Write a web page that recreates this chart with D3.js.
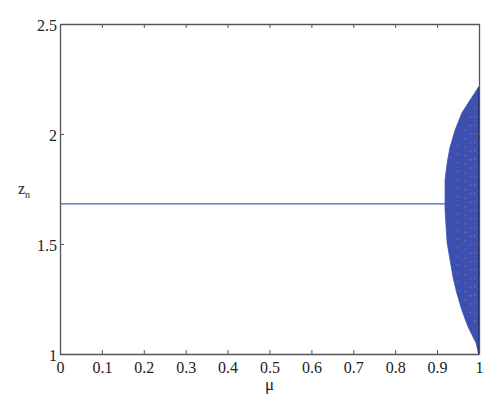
<!DOCTYPE html>
<html>
<head>
<meta charset="utf-8">
<script src="https://cdn.jsdelivr.net/npm/d3@7"></script>
<style>
  body { margin: 0; background: #fff; }
</style>
</head>
<body>
<script>
// values
const xTicks = [0, 0.1, 0.2, 0.3, 0.4, 0.5, 0.6, 0.7, 0.8, 0.9, 1];
const yTicks = [1, 1.5, 2, 2.5];

// fixed point before the bifurcation
const fixedZ = 1.682;
const fixedEndMu = 0.919;

// left boundary of the chaotic band, top to bottom (band fills to mu = 1)
const edgeZ  = [2.214, 2.155, 2.095, 2.018, 1.941, 1.868, 1.791, 1.686, 1.655, 1.505, 1.427, 1.35, 1.277, 1.2, 1.123, 1.05, 1.0];
const edgeMu = [0.999, 0.979, 0.959, 0.943, 0.931, 0.924, 0.919, 0.919, 0.919, 0.924, 0.931, 0.938, 0.947, 0.959, 0.974, 0.993, 0.999];

// light speckle columns inside the band
const speckMu = [0.950, 0.967, 0.979, 0.990];
const speckTop = [1.95, 2.02, 2.08, 2.12];
const speckBot = [1.3, 1.22, 1.18, 1.12];

const font = '"Liberation Serif"';

const margin = {left: 60, right: 21, top: 24, bottom: 59};
const W = 500, H = 413;
const width = W - margin.left - margin.right;
const height = H - margin.top - margin.bottom;

const svg = d3.select('body').append('svg')
  .attr('width', W)
  .attr('height', H)
  .style('font-family', font);

const g = svg.append('g')
  .attr('transform', `translate(${margin.left},${margin.top})`);

const x = d3.scaleLinear().domain([0, 1]).range([0, width]);
const y = d3.scaleLinear().domain([1, 2.5]).range([height, 0]);

const blue = '#3d50b0';

// fixed point line
g.append('line')
  .attr('x1', x(0)).attr('x2', x(fixedEndMu))
  .attr('y1', y(fixedZ)).attr('y2', y(fixedZ))
  .attr('stroke', '#4a5cc0')
  .attr('stroke-width', 1.3);

// chaotic band
const band = edgeZ.map((z, i) => ({z: z, mu: edgeMu[i]}));
const area = d3.area()
  .y(d => y(d.z))
  .x0(d => x(d.mu))
  .x1(x(1));

g.append('path')
  .datum(band)
  .attr('d', area)
  .attr('fill', blue)
  .attr('stroke', blue)
  .attr('stroke-width', 0.8);

g.selectAll('.speck')
  .data(speckMu)
  .enter().append('line')
  .attr('class', 'speck')
  .attr('x1', d => x(d)).attr('x2', d => x(d))
  .attr('y1', (d, i) => y(speckTop[i]))
  .attr('y2', (d, i) => y(speckBot[i]))
  .attr('stroke', '#8d9ad6')
  .attr('stroke-width', 1)
  .attr('stroke-dasharray', '1.5,7')
  .attr('opacity', 0.7);

// dark right edge of the band
g.append('line')
  .attr('x1', x(1)).attr('x2', x(1))
  .attr('y1', y(edgeZ[0])).attr('y2', y(1))
  .attr('stroke', '#1f2a6a')
  .attr('stroke-width', 1.5);

// axes, ticks pointing in, mirrored on top and right
const axisColor = '#555';
const xAxis = d3.axisBottom(x).tickValues(xTicks).tickSizeInner(-4).tickSizeOuter(0)
  .tickPadding(8).tickFormat(d => d3.format('')(d));
const yAxis = d3.axisLeft(y).tickValues(yTicks).tickSizeInner(-4).tickSizeOuter(0)
  .tickPadding(3).tickFormat(d => d3.format('')(d));

const gx = g.append('g')
  .attr('transform', `translate(0,${height})`)
  .call(xAxis)
  .attr('font-family', null);
const gy = g.append('g').call(yAxis)
  .attr('font-family', null);

g.append('g').call(d3.axisTop(x).tickValues(xTicks).tickSizeInner(-4).tickSizeOuter(0).tickFormat(''));
g.append('g').attr('transform', `translate(${width},0)`)
  .call(d3.axisRight(y).tickValues(yTicks).tickSizeInner(-4).tickSizeOuter(0).tickFormat(''));

g.selectAll('.domain').attr('stroke', axisColor).attr('stroke-width', 1.3);
g.selectAll('.tick line').attr('stroke', axisColor);
gx.selectAll('text').style('font-family', font).style('font-size', '16px').attr('fill', '#222');
gy.selectAll('text').style('font-family', font).style('font-size', '16px').attr('fill', '#222').attr('dy', '0.4em');

// axis titles
svg.append('text')
  .attr('x', margin.left + x(0.5))
  .attr('y', 390)
  .attr('text-anchor', 'middle')
  .style('font-family', font)
  .style('font-size', '17px')
  .attr('fill', '#222')
  .text('μ');

const yl = svg.append('text')
  .attr('x', 18)
  .attr('y', 194)
  .style('font-family', font)
  .attr('fill', '#222')
  .style('font-size', '16px');
yl.append('tspan').text('z');
yl.append('tspan').attr('dy', 4).style('font-size', '10px').text('n');
</script>
</body>
</html>
